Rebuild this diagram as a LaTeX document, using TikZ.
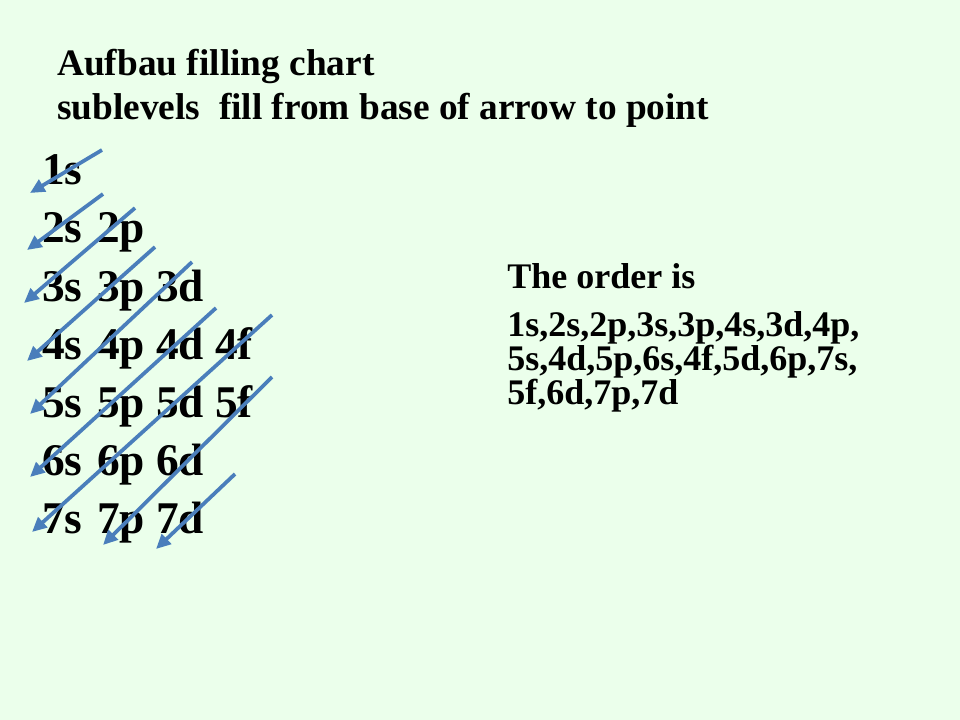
\documentclass[tikz,border=0pt]{standalone}
\usepackage{fontspec}
\setmainfont{Liberation Serif}
\usetikzlibrary{arrows.meta}
\definecolor{slidebg}{RGB}{235,255,235}
\definecolor{arrowblue}{RGB}{74,126,187}
\tikzset{
  orb/.style={anchor=base west, inner sep=0pt, font=\fontsize{34}{34}\selectfont\bfseries},
  txt/.style={anchor=base west, inner sep=0pt, font=\fontsize{28}{28}\selectfont\bfseries},
  ordertxt/.style={anchor=base west, inner sep=0pt, font=\fontsize{27}{27}\selectfont\bfseries},
  fillarrow/.style={arrowblue, line width=2.8pt, -{Triangle[length=11pt,width=10pt]}}
}
\begin{document}
\begin{tikzpicture}[x=0.75pt,y=-0.75pt]
      \fill[slidebg] (0,0) rectangle (960,720) ;
      \useasboundingbox (0,0) rectangle (960,720) ;
      % heading
      \node[txt] (title) at (57,76) {Aufbau filling chart} ;
      \node[txt] (rule) at (57,120) {sublevels\ \ fill from base of arrow to point} ;
      % sublevels
      \foreach \n/\subs in {1/{s},2/{s,p},3/{s,p,d},4/{s,p,d,f},5/{s,p,d,f},6/{s,p,d},7/{s,p,d}} {
        \foreach \l [count=\c] in \subs {
          \pgfmathsetmacro\cx{{42,97,156,215}[\c-1]}
          \node[orb] (n\n\l) at (\cx,{185+58*(\n-1)}) {\n\l} ;
        }
      }
      % arrows, base to point
      \foreach \xa/\ya/\xb/\yb [count=\i] in {102/150/30/193,103/194/27/250,135/208/24/303,
        155/247/27/361,192/262/30/414,216/308/30/477,272/315/32/532,272/377/103/545,235/474/156/549} {
        \coordinate (t\i) at (\xa,\ya) ;
        \coordinate (h\i) at (\xb,\yb) ;
        \draw[fillarrow] (t\i) -- (h\i) ;
      }
      % order
      \node[ordertxt] (order) at (507,288) {The order is} ;
      \node[ordertxt] (seq1) at (507,336) {1s,2s,2p,3s,3p,4s,3d,4p,} ;
      \node[ordertxt] (seq2) at (507,370) {5s,4d,5p,6s,4f,5d,6p,7s,} ;
      \node[ordertxt] (seq3) at (507,404) {5f,6d,7p,7d} ;
    \end{tikzpicture}
\end{document}
